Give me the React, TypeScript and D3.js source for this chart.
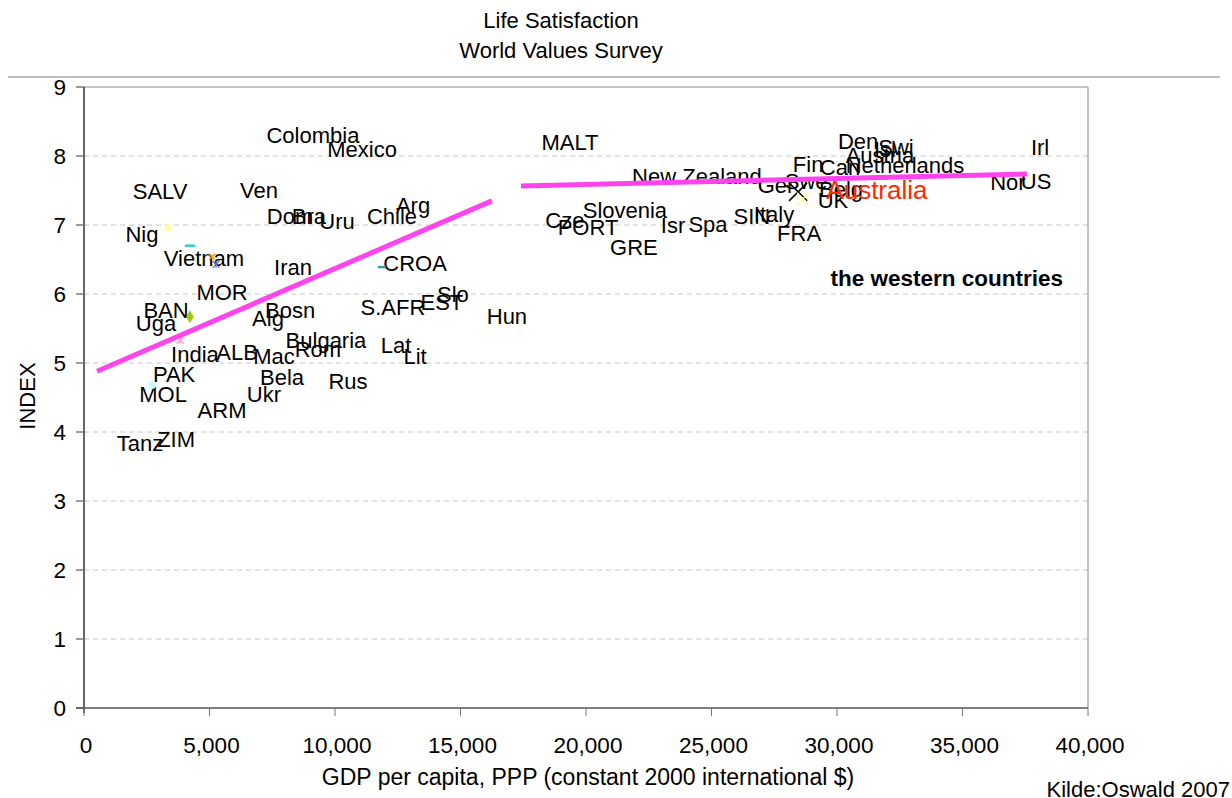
import React from "react";
import * as d3 from "d3";

// Country labels: name, GDP per capita (PPP, 2000 $), life-satisfaction index
const countries: string[] = [
  "Colombia","Mexico","SALV","Ven","Nig","Vietnam","Dom","Bra","Uru","Chile","Arg","Iran","CROA",
  "MOR","BAN","Uga","Alg","Bosn","India","ALB","Mac","Bulgaria","Rom","Bela","Ukr","PAK","MOL",
  "ARM","Tanz","ZIM","Rus","S.AFR","EST","Slo","Hun","Lat","Lit",
  "MALT","New Zealand","Cze","Slovenia","PORT","GRE","Isr","Spa","SIN","Italy","FRA",
  "Fin","Ger","Swe","Can","Belg","UK","Den","Swi","Austria","Isl","Netherlands","Nor","US","Irl","Australia"
];
const gdp: number[] = [
  9120,11080,3030,6970,2310,4780,8210,8960,10080,12270,13110,8330,13190,
  5500,3270,2870,7330,8210,4420,6100,7570,9640,9320,7890,7170,3590,3150,
  5500,2230,3670,10520,12310,14260,14700,16850,12430,13190,
  19360,24420,19160,21550,20080,21910,23470,24860,26610,27490,28490,
  28850,27570,28770,30120,30160,29840,30840,32350,31710,31910,32710,36810,37930,38090,31590
];
const satisfaction: number[] = [
  8.30,8.10,7.49,7.51,6.87,6.52,7.12,7.13,7.06,7.12,7.29,6.38,6.45,
  6.03,5.77,5.58,5.65,5.77,5.12,5.16,5.10,5.33,5.20,4.80,4.54,4.84,4.55,
  4.32,3.84,3.90,4.73,5.81,5.88,6.00,5.67,5.25,5.09,
  8.20,7.71,7.07,7.22,6.96,6.67,7.00,7.01,7.12,7.15,6.88,
  7.88,7.58,7.63,7.83,7.52,7.36,8.22,8.13,8.01,8.09,7.86,7.62,7.64,8.12,7.51
];

// Visible series markers
const markerGdp: number[] = [3350, 4220, 5100, 5260, 4220, 3830, 2710, 11870, 28450, 28650];
const markerVal: number[] = [6.96, 6.70, 6.54, 6.43, 5.67, 5.33, 4.68, 6.39, 7.48, 7.38];
const markerShape: string[] = ["triangle","dash","x","star","diamond","star","circle","dash","x","x"];
const markerColor: string[] = ["#ffff99","#33cccc","#ff9900","#6666cc","#99cc00","#ff99cc","#ccffff","#339999","#000000","#ffff99"];
const markerSize: number[] = [8, 10, 6, 7, 10, 7, 8, 8, 18, 12];

// Trend lines
const trendPoor = [
  { gdp: 520, v: 4.88 },
  { gdp: 16250, v: 7.35 },
];
const trendRich = [
  { gdp: 17410, v: 7.565 },
  { gdp: 37570, v: 7.739 },
];

const xTicks: number[] = [0, 5000, 10000, 15000, 20000, 25000, 30000, 35000, 40000];
const yTicks: number[] = [0, 1, 2, 3, 4, 5, 6, 7, 8, 9];

const FONT = "'Liberation Sans', Arial, Helvetica, sans-serif";

export default function App() {
  const W = 1232, H = 798;
  const left = 84, right = 1088, top = 87, bottom = 708;
  const x = d3.scaleLinear().domain([0, 40000]).range([left, right]);
  const y = d3.scaleLinear().domain([0, 9]).range([bottom, top]);
  const line = d3.line<{ gdp: number; v: number }>().x(d => x(d.gdp)).y(d => y(d.v));
  const fmt = d3.format(",");

  const marker = (i: number) => {
    const cx = x(markerGdp[i]), cy = y(markerVal[i]);
    const s = markerSize[i], c = markerColor[i], h = s / 2;
    switch (markerShape[i]) {
      case "triangle":
        return <path key={i} d={d3.symbol(d3.symbolTriangle, s * s * 0.6)()!} transform={`translate(${cx},${cy})`} fill={c} />;
      case "dash":
        return <line key={i} x1={cx - h} x2={cx + h} y1={cy} y2={cy} stroke={c} strokeWidth={2.5} />;
      case "x":
        return <path key={i} d={`M${cx - h},${cy - h}L${cx + h},${cy + h}M${cx - h},${cy + h}L${cx + h},${cy - h}`} stroke={c} strokeWidth={1.5} fill="none" />;
      case "star":
        return <path key={i} d={`M${cx - h},${cy - h}L${cx + h},${cy + h}M${cx - h},${cy + h}L${cx + h},${cy - h}M${cx},${cy - h}L${cx},${cy + h}`} stroke={c} strokeWidth={1.2} fill="none" />;
      case "diamond":
        return <path key={i} d={d3.symbol(d3.symbolDiamond, s * s * 0.5)()!} transform={`translate(${cx},${cy})`} fill={c} />;
      default:
        return <circle key={i} cx={cx} cy={cy} r={h} fill={c} />;
    }
  };

  return (
    <div style={{ position: "absolute", left: 0, top: 0 }}>
      <svg width={W} height={H} style={{ display: "block", fontFamily: FONT }}>
        <rect width={W} height={H} fill="#fff" />
        {/* Title */}
        <text x={561} y={20} dy="0.35em" textAnchor="middle" fontSize={22}>Life Satisfaction</text>
        <text x={561} y={50} dy="0.35em" textAnchor="middle" fontSize={22}>World Values Survey</text>
        <line x1={8} x2={1220} y1={77} y2={77} stroke="#aaa" strokeWidth={1.5} />

        {/* grid */}
        {yTicks.filter(t => t > 0 && t < 9).map(t => (
          <line key={t} x1={left} x2={right} y1={y(t)} y2={y(t)} stroke="#c8c8c8" strokeDasharray="5,4" />
        ))}
        {/* plot frame */}
        <line x1={left} x2={right} y1={top} y2={top} stroke="#888" />
        <line x1={right} x2={right} y1={top} y2={bottom} stroke="#888" />

        {/* labels */}
        {countries.map((c, i) => (
          <text key={c} x={x(gdp[i])} y={y(satisfaction[i])} dy="0.35em" textAnchor="middle"
            fontSize={c === "Australia" ? 26 : 22} fill={c === "Australia" ? "#ff2a00" : "#000"}>{c}</text>
        ))}

        {/* markers */}
        {markerGdp.map((_, i) => marker(i))}

        {/* trend lines */}
        <path d={line(trendPoor)!} stroke="#ff44ee" strokeWidth={5} fill="none" />
        <path d={line(trendRich)!} stroke="#ff44ee" strokeWidth={5} fill="none" />

        <text x={1063} y={278} dy="0.35em" textAnchor="end" fontSize={22.5} fontWeight="bold">the western countries</text>

        {/* y axis */}
        <line x1={left} x2={left} y1={top} y2={bottom + 5} stroke="#000" strokeWidth={1.2} />
        {yTicks.map(t => (
          <g key={t}>
            <line x1={left - 8} x2={left} y1={y(t)} y2={y(t)} stroke="#777" strokeWidth={1.5} />
            <text x={66} y={y(t)} dy="0.35em" textAnchor="end" fontSize={22.5}>{t}</text>
          </g>
        ))}
        {/* x axis */}
        <line x1={left - 8} x2={right} y1={bottom} y2={bottom} stroke="#555" strokeWidth={1.5} />
        {xTicks.map(t => (
          <g key={t}>
            <line x1={x(t)} x2={x(t)} y1={bottom} y2={bottom + 8} stroke="#777" />
            <text x={x(t) + 2} y={745} dy="0.35em" textAnchor="middle" fontSize={22.5}>{fmt(t)}</text>
          </g>
        ))}

        <text transform={`translate(27,396) rotate(-90)`} dy="0.35em" textAnchor="middle" fontSize={22}>INDEX</text>
        <text x={588} y={777} dy="0.35em" textAnchor="middle" fontSize={23}>GDP per capita, PPP (constant 2000 international $)</text>
        <text x={1230} y={789} dy="0.35em" textAnchor="end" fontSize={22}>Kilde:Oswald 2007</text>
      </svg>
    </div>
  );
}
